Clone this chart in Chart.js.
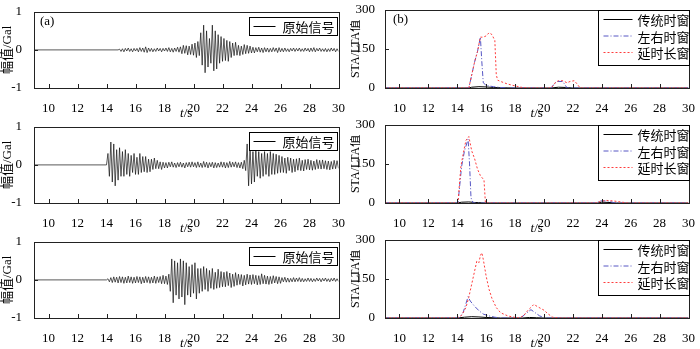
<!DOCTYPE html>
<html><head><meta charset="utf-8">
<script src="https://cdn.jsdelivr.net/npm/chart.js@4.4.1/dist/chart.umd.min.js"></script>
<style>
body{margin:0;background:#fff}
#wrap{position:relative;width:700px;height:349px;overflow:hidden}
#wrap canvas{position:absolute}
</style></head><body><div id="wrap"></div>
<script>
// axis ticks
const xMin=9,xMax=30;
const xTicks=[10,12,14,16,18,20,22,24,26,28,30];
const ampTicks=[-1,0,1];
const ratioTicks=[0,150,300];

// raw records, one sample every 0.1 s after the onset time (flat before it)
const waveStep=0.1;
const wave1Start=14.8,wave2Start=14.0,wave3Start=14.0;
const wave1=[0.02,-0.04,0.03,-0.05,0.04,-0.03,0.05,-0.04,0.03,-0.05,0.04,-0.03,
 0.04,-0.05,0.06,-0.04,0.05,-0.06,0.08,-0.07,0.05,-0.04,
 0.04,-0.05,0.03,-0.04,0.05,-0.03,0.04,-0.05,0.04,-0.03,
 0.05,-0.04,0.06,-0.05,0.04,-0.06,0.05,-0.04,0.07,-0.06,
 0.08,-0.1,0.12,-0.09,0.11,-0.13,0.1,-0.12,0.15,-0.14,
 0.18,-0.2,0.22,-0.15,
 0.45,-0.4,0.65,-0.6,0.5,-0.45,
 0.3,-0.35,0.65,-0.55,0.5,-0.5,
 0.4,-0.35,0.35,-0.3,
 0.3,-0.28,0.25,-0.3,0.22,
 -0.2,0.18,-0.15,0.2,-0.14,
 0.12,-0.15,0.1,-0.12,0.14,-0.1,0.12,-0.09,0.1,-0.08,
 0.07,-0.08,0.06,-0.05,0.07,-0.06,0.05,-0.07,0.06,-0.05,
 0.05,-0.06,0.04,-0.05,0.06,-0.04,0.05,-0.07,0.06,-0.05,
 0.04,-0.05,0.05,-0.04,0.03,-0.05,0.04,-0.03,0.05,-0.04,
 0.04,-0.03,0.05,-0.04,0.03,-0.04,0.05,-0.03,0.04,-0.05,
 0.05,-0.04,0.06,-0.05,0.04,-0.03,0.05,-0.04,0.03,-0.04,
 0.04,-0.05,0.03,-0.04,0.05,-0.03,0.04,-0.05,0.03,-0.04,0.02];
const wave2=[0.3,-0.3,0.6,-0.45,0.55,
 -0.55,0.4,-0.4,0.45,-0.3,
 0.35,-0.3,0.4,-0.25,0.3,
 -0.3,0.25,-0.2,0.3,-0.25,
 0.2,-0.25,0.3,-0.2,0.22,
 -0.18,0.22,-0.2,0.15,-0.18,
 0.15,-0.12,0.18,-0.1,0.12,
 -0.1,0.08,-0.12,0.07,-0.08,
 0.06,-0.08,0.07,-0.05,0.08,-0.06,0.05,-0.07,0.06,-0.05,
 0.07,-0.06,0.05,-0.08,0.06,-0.05,0.07,-0.06,0.08,-0.05,
 0.06,-0.07,0.08,-0.06,0.05,-0.07,0.09,-0.06,0.07,-0.08,
 0.06,-0.05,0.07,-0.08,0.06,-0.07,0.05,-0.06,0.08,-0.06,
 0.07,-0.08,0.06,-0.07,0.09,-0.06,0.07,-0.05,0.08,-0.07,
 0.06,-0.08,0.07,-0.1,0.12,-0.15,
 0.55,-0.55,0.45,-0.5,
 0.35,-0.45,0.4,-0.3,0.35,
 -0.35,0.3,-0.3,0.35,-0.25,
 0.3,-0.3,0.35,-0.25,0.3,
 -0.25,0.28,-0.22,0.25,-0.2,
 0.22,-0.2,0.18,-0.22,0.2,-0.15,0.18,-0.2,0.15,-0.18,
 0.16,-0.14,0.18,-0.15,0.12,-0.16,0.14,-0.12,0.15,-0.13,
 0.12,-0.14,0.1,-0.12,0.14,-0.1,0.12,-0.11,0.13,-0.1,
 0.11,-0.12,0.1,-0.13,0.09,-0.11,0.12,-0.1,0.11,-0.09,0.05];
const wave3=[0.03,-0.05,0.06,-0.07,0.08,-0.06,0.07,-0.08,0.09,-0.07,
 0.08,-0.09,0.07,-0.08,0.1,-0.07,0.08,-0.09,0.07,-0.08,
 0.09,-0.07,0.08,-0.1,0.07,-0.08,0.09,-0.07,0.08,-0.09,
 0.07,-0.08,0.1,-0.09,0.08,-0.07,0.09,-0.1,0.12,-0.1,
 0.1,-0.12,0.15,
 -0.3,0.55,-0.6,0.5,-0.4,0.45,-0.5,
 0.55,-0.45,0.5,-0.65,0.45,
 -0.4,0.35,-0.45,0.4,-0.35,
 0.45,-0.5,0.3,-0.35,0.3,
 -0.3,0.35,-0.25,0.3,-0.3,
 0.25,-0.22,0.3,-0.25,0.2,-0.22,0.28,-0.2,0.22,-0.18,
 0.2,-0.18,0.22,-0.15,0.18,-0.2,0.15,-0.17,0.19,-0.14,
 0.15,-0.12,0.14,-0.16,0.12,-0.13,0.15,-0.11,0.13,-0.12,
 0.14,-0.1,0.12,-0.13,0.11,-0.12,0.16,-0.1,0.12,-0.11,
 0.1,-0.12,0.09,-0.1,0.11,-0.08,0.09,-0.1,0.08,-0.09,
 0.06,-0.05,0.07,-0.06,0.05,-0.06,0.04,-0.05,0.06,-0.05,
 0.05,-0.04,0.06,-0.05,0.04,-0.05,0.03,-0.04,0.05,-0.04,
 0.04,-0.05,0.03,-0.04,0.05,-0.03,0.04,-0.05,0.04,-0.03,
 0.05,-0.04,0.03,-0.05,0.04,-0.03,0.05,-0.04,0.03,-0.04,0.03];

// STA/LTA ratio curves as [t, value]
const seriesNames=['传统时窗','左右时窗','延时长窗'];
const trad1=[[9,0],[14.8,0],[15,3],[15.5,5],[16,4],[16.5,2],[17,1],[18,0],[20.5,0],[21,3],[21.5,2],[22,0],[30,0]];
const lr1=[[9,0],[14.8,0],[15.0,50],[15.2,100],[15.4,140],[15.6,195],[15.7,100],[15.8,20],[16,10],[16.5,5],[17,2],[17.5,0],[20.5,0],[20.7,15],[20.9,25],[21.3,25],[21.6,0],[30,0]];
const delay1=[[9,0],[14.8,0],[15.0,50],[15.2,100],[15.4,140],[15.6,195],[15.8,195],[16.0,200],[16.2,212],[16.4,205],[16.6,182],[16.7,50],[16.8,30],[17,25],[17.5,15],[18,8],[18.5,2],[19,0],[20.5,0],[20.8,22],[21.0,28],[21.3,28],[21.6,20],[21.8,25],[22.1,28],[22.3,15],[22.5,0],[30,0]];
const trad2=[[9,0],[14,0],[14.3,3],[14.8,4],[15.2,2],[16,0],[23.7,0],[24,3],[24.5,2],[25,0],[30,0]];
const lr2=[[9,0],[14.05,0],[14.3,140],[14.5,200],[14.75,245],[14.85,150],[14.95,20],[15.1,0],[23.6,0],[23.9,8],[24.4,8],[24.8,2],[25.2,0],[30,0]];
const delay2=[[9,0],[14.05,0],[14.25,140],[14.45,200],[14.6,240],[14.8,255],[15.0,200],[15.2,170],[15.4,130],[15.6,105],[15.85,88],[15.95,0],[23.6,0],[23.9,6],[24.3,10],[24.8,8],[25.3,4],[25.8,0],[30,0]];
const trad3=[[9,0],[14,0],[14.5,3],[15,5],[15.5,4],[16,2],[17,0],[18.5,0],[19,2],[19.5,1],[20,0],[30,0]];
const lr3=[[9,0],[14.1,0],[14.4,20],[14.6,55],[14.75,82],[14.9,65],[15.2,45],[15.5,28],[15.8,15],[16.2,8],[16.6,3],[17,0],[18.4,0],[18.7,15],[19.1,32],[19.4,20],[19.7,8],[20,2],[20.3,0],[30,0]];
const delay3=[[9,0],[14.0,0],[14.3,10],[14.6,40],[14.8,80],[15.0,130],[15.2,180],[15.35,218],[15.5,212],[15.6,240],[15.7,250],[15.8,225],[16.0,160],[16.2,110],[16.4,75],[16.7,40],[17.0,20],[17.5,8],[18.0,2],[18.3,0],[18.6,10],[18.9,30],[19.3,52],[19.6,42],[20.0,30],[20.3,15],[20.6,3],[21,0],[30,0]];

const wrap=document.getElementById('wrap');
const numFont={family:'"Liberation Serif","Noto Sans CJK SC",serif',size:13};
const cjkFont='13px "Noto Sans CJK SC",sans-serif';

function wavePoints(start,vals){
  const pts=[{x:xMin,y:0},{x:start,y:0}];
  vals.forEach((v,i)=>pts.push({x:start+(i+1)*waveStep,y:v}));
  return pts;
}
function pairPoints(arr){return arr.map(p=>({x:p[0],y:p[1]}))}

// frame, inward ticks, legend box, panel tag and the t/s caption
const panelDeco={id:'panelDeco',afterDatasetsDraw(chart,args,opts){
  const {ctx,chartArea:a,scales:{x,y}}=chart;
  ctx.save();
  ctx.strokeStyle='#222';ctx.lineWidth=1;
  ctx.beginPath();
  x.ticks.forEach(t=>{const px=Math.round(x.getPixelForValue(t.value))+0.5;ctx.moveTo(px,a.bottom);ctx.lineTo(px,a.bottom-4)});
  y.ticks.forEach(t=>{const py=Math.round(y.getPixelForValue(t.value))+0.5;ctx.moveTo(a.left,py);ctx.lineTo(a.left+4,py)});
  ctx.stroke();
  ctx.strokeRect(Math.round(a.left)+0.5,Math.round(a.top)+0.5,Math.round(a.right-a.left),Math.round(a.bottom-a.top));

  const ds=chart.data.datasets;
  ctx.font=cjkFont;ctx.textBaseline='middle';ctx.textAlign='left';
  if(opts.multi){
    const bx=Math.round(a.right)-91+0.5,by=Math.round(a.top)+0.5;
    ctx.fillStyle='#fff';ctx.fillRect(bx,by,91,55);
    ctx.strokeStyle='#000';ctx.strokeRect(bx,by,91,55);
    ds.forEach((d,i)=>{
      const ly=by+9+i*16.5;
      ctx.save();ctx.strokeStyle=d.borderColor;ctx.lineWidth=1;ctx.setLineDash(d.borderDash||[]);
      ctx.beginPath();ctx.moveTo(bx+5,ly);ctx.lineTo(bx+34,ly);ctx.stroke();ctx.restore();
      ctx.fillStyle='#000';ctx.fillText(d.label,bx+39,ly+1);
    });
  }else{
    const bx=Math.round(a.right)-90+0.5,by=Math.round(a.top)+5.5;
    ctx.fillStyle='#fff';ctx.fillRect(bx,by,88,18);
    ctx.strokeStyle='#000';ctx.strokeRect(bx,by,88,18);
    ctx.beginPath();ctx.moveTo(bx+4,by+9);ctx.lineTo(bx+26,by+9);ctx.stroke();
    ctx.fillStyle='#000';ctx.fillText(ds[0].label,bx+33,by+10);
  }
  if(opts.tag){
    ctx.font='13px "Liberation Serif",serif';ctx.fillStyle='#000';
    ctx.fillText(opts.tag,a.left+(opts.multi?8:6),a.top+10);
  }
  // caption: italic t, upright /s
  const cx=(a.left+a.right)/2,cy=a.bottom+26;
  ctx.font='italic 13px "Liberation Serif",serif';
  const w1=ctx.measureText('t').width;
  ctx.font='13px "Liberation Serif",serif';
  const w2=ctx.measureText('/s').width;
  const sx=cx-(w1+w2)/2;
  ctx.fillStyle='#000';
  ctx.font='italic 13px "Liberation Serif",serif';ctx.fillText('t',sx,cy);
  ctx.font='13px "Liberation Serif",serif';ctx.fillText('/s',sx+w1,cy);
  ctx.restore();
}};

function makePanel(col,row,datasets,yTicks,yTitle,deco){
  const c=document.createElement('canvas');
  c.width=350;c.height=122;c.style.left=(col*350)+'px';c.style.top=(row*115)+'px';
  wrap.appendChild(c);
  const yw=col?35:34;
  const titleFont={family:numFont.family,size:col?12:13};
  new Chart(c,{type:'line',data:{datasets},
    options:{responsive:false,animation:false,devicePixelRatio:1,parsing:false,
      layout:{padding:{left:0,right:col?6:8,top:7,bottom:0}},
      elements:{point:{radius:0},line:{tension:0}},
      plugins:{legend:{display:false},tooltip:{enabled:false},panelDeco:deco},
      scales:{
        x:{type:'linear',min:xMin,max:xMax,
          afterBuildTicks:s=>{s.ticks=xTicks.map(v=>({value:v}))},
          afterFit:s=>{s.height=34},
          grid:{display:false},border:{display:false},
          ticks:{padding:5,font:numFont,color:'#000',maxRotation:0,autoSkip:false}},
        y:{type:'linear',min:yTicks[0],max:yTicks[yTicks.length-1],
          afterBuildTicks:s=>{s.ticks=yTicks.map(v=>({value:v}))},
          afterFit:s=>{s.width=yw},
          grid:{display:false},border:{display:false},
          title:{display:true,text:yTitle,font:titleFont,color:'#000',padding:{top:col?-1:0,bottom:0}},
          ticks:{padding:col?2:4,font:numFont,color:'#000',autoSkip:false}}
      }},
    plugins:[panelDeco]});
}

function waveSet(pts){return [{label:'原始信号',data:pts,borderColor:'#111',borderWidth:0.7}]}
function ratioSet(t,l,d){return [
  {label:seriesNames[0],data:pairPoints(t),borderColor:'#000',borderWidth:1,order:2},
  {label:seriesNames[1],data:pairPoints(l),borderColor:'#5656c4',borderWidth:1,borderDash:[5,2,1,2],order:1},
  {label:seriesNames[2],data:pairPoints(d),borderColor:'#ff3c3c',borderWidth:1,borderDash:[2,2],order:0}]}

const waves=[[wave1Start,wave1],[wave2Start,wave2],[wave3Start,wave3]];
const ratios=[[trad1,lr1,delay1],[trad2,lr2,delay2],[trad3,lr3,delay3]];
waves.forEach((w,r)=>makePanel(0,r,waveSet(wavePoints(w[0],w[1])),ampTicks,'幅值/Gal',{tag:r===0?'(a)':'',multi:false}));
ratios.forEach((s,r)=>makePanel(1,r,ratioSet(s[0],s[1],s[2]),ratioTicks,'STA/LTA值',{tag:r===0?'(b)':'',multi:true}));
</script></body></html>
